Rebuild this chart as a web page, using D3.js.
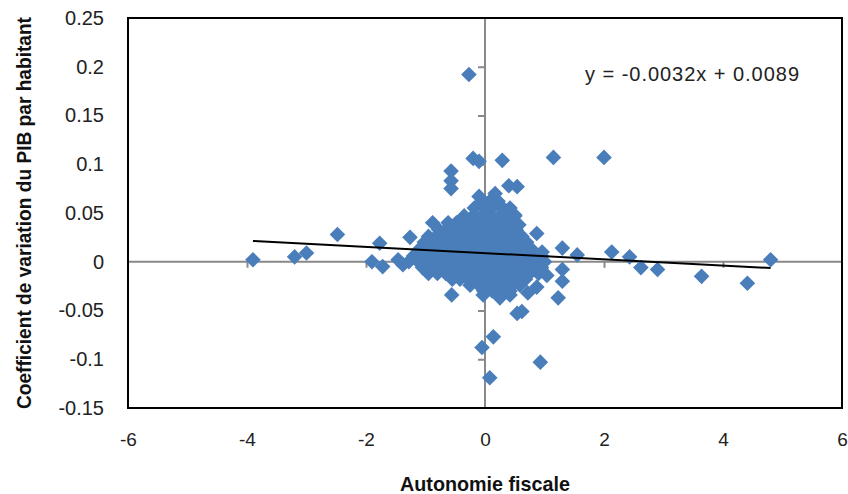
<!DOCTYPE html>
<html>
<head>
<meta charset="utf-8">
<script src="https://cdn.jsdelivr.net/npm/d3@7/dist/d3.min.js"></script>
<style>
  body { margin: 0; background: #fff; }
  .tick-label { font-family: "Liberation Sans", Arial, sans-serif; font-size: 20px; fill: #222; }
  .xlab { font-family: "Liberation Sans Narrow", "Arial Narrow", "Liberation Sans", sans-serif; font-size: 19px; fill: #222; }
  .title { font-family: "Liberation Sans Narrow", "Arial Narrow", "Liberation Sans", sans-serif; font-size: 21px; font-weight: bold; fill: #111; }
  .eq { font-family: "Liberation Sans", sans-serif; font-size: 20px; fill: #222; }
</style>
</head>
<body>
<div class="graph"></div>
<script>
// x = autonomie fiscale, y = coefficient de variation du PIB par habitant
var autonomie = [
  // isolated points
  -3.9, -3.2, -3.0, -2.48, -1.9, -1.72, -1.77, -1.26, -1.46, -1.38,
  -0.57, -0.57, -0.57, -0.27, -0.2, -0.1, 0.29, 1.15, 2.0,
  0.4, 0.54, 0.17, -0.1, 0.57, 0.5,
  0.87, 0.96, 1.3, 1.55, 2.13, 2.43, 2.62, 2.9, 3.64, 4.41, 4.8,
  1.3, 1.3, 1.23, 0.87, 1.04,
  -0.56, -0.03, 0.54, 0.62, 0.14, -0.05, 0.93, 0.08, 0.25, 0.42, 0.72,
  // dense cluster
  -0.05, 0.08, 0.22,
  -0.18, 0.0, 0.12, 0.3, 0.42,
  -0.35, -0.2, -0.05, 0.1, 0.25, 0.38, 0.5,
  -0.88, -0.62, -0.48, -0.3, -0.15, 0.02, 0.18, 0.33, 0.45,
  -0.78, -0.65, -0.5, -0.38, -0.22, -0.08, 0.07, 0.2, 0.36, 0.52,
  -0.95, -0.82, -0.68, -0.55, -0.42, -0.28, -0.12, 0.03, 0.15, 0.3, 0.42, 0.62,
  -1.02, -0.88, -0.74, -0.6, -0.46, -0.33, -0.18, -0.04, 0.1, 0.24, 0.38, 0.55, 0.7,
  -1.1, -0.95, -0.8, -0.66, -0.52, -0.4, -0.25, -0.1, 0.05, 0.18, 0.33, 0.47, 0.63, 0.78,
  -1.2, -1.05, -0.9, -0.76, -0.62, -0.48, -0.34, -0.2, -0.06, 0.08, 0.22, 0.36, 0.5, 0.66, 0.82, 0.95,
  -1.28, -1.12, -0.98, -0.84, -0.7, -0.56, -0.42, -0.28, -0.14, 0.0, 0.14, 0.28, 0.42, 0.58, 0.72, 0.88, 1.0,
  -1.05, -0.9, -0.76, -0.62, -0.48, -0.34, -0.2, -0.06, 0.08, 0.22, 0.36, 0.5, 0.64, 0.8, 0.95,
  -0.95, -0.8, -0.66, -0.52, -0.38, -0.24, -0.1, 0.04, 0.18, 0.32, 0.46, 0.6, 0.75, 0.9,
  -0.55, -0.42, -0.28, -0.14, 0.0, 0.14, 0.28, 0.42, 0.56, 0.68,
  -0.25, -0.1, 0.04, 0.18, 0.32, 0.46, 0.59,
  -0.02, 0.12, 0.28, 0.42
];
var variation = [
  0.002, 0.005, 0.009, 0.028, 0.0, -0.005, 0.019, 0.025, 0.002, -0.003,
  0.093, 0.083, 0.075, 0.192, 0.106, 0.103, 0.104, 0.107, 0.107,
  0.078, 0.077, 0.07, 0.067, 0.038, 0.048,
  0.029, 0.010, 0.014, 0.007, 0.010, 0.005, -0.006, -0.008, -0.015, -0.022, 0.002,
  -0.008, -0.02, -0.037, -0.026, -0.014,
  -0.034, -0.034, -0.053, -0.051, -0.077, -0.088, -0.103, -0.119, -0.037, -0.034, -0.032,
  0.062, 0.062, 0.062,
  0.055, 0.055, 0.055, 0.055, 0.055,
  0.047, 0.047, 0.047, 0.047, 0.047, 0.047, 0.047,
  0.04, 0.04, 0.04, 0.04, 0.04, 0.04, 0.04, 0.04, 0.04,
  0.033, 0.033, 0.033, 0.033, 0.033, 0.033, 0.033, 0.033, 0.033, 0.033,
  0.026, 0.026, 0.026, 0.026, 0.026, 0.026, 0.026, 0.026, 0.026, 0.026, 0.026, 0.026,
  0.02, 0.02, 0.02, 0.02, 0.02, 0.02, 0.02, 0.02, 0.02, 0.02, 0.02, 0.02, 0.02,
  0.013, 0.013, 0.013, 0.013, 0.013, 0.013, 0.013, 0.013, 0.013, 0.013, 0.013, 0.013, 0.013, 0.013,
  0.006, 0.006, 0.006, 0.006, 0.006, 0.006, 0.006, 0.006, 0.006, 0.006, 0.006, 0.006, 0.006, 0.006, 0.006, 0.006,
  0.0, 0.0, 0.0, 0.0, 0.0, 0.0, 0.0, 0.0, 0.0, 0.0, 0.0, 0.0, 0.0, 0.0, 0.0, 0.0, 0.0,
  -0.006, -0.006, -0.006, -0.006, -0.006, -0.006, -0.006, -0.006, -0.006, -0.006, -0.006, -0.006, -0.006, -0.006, -0.006,
  -0.012, -0.012, -0.012, -0.012, -0.012, -0.012, -0.012, -0.012, -0.012, -0.012, -0.012, -0.012, -0.012, -0.012,
  -0.018, -0.018, -0.018, -0.018, -0.018, -0.018, -0.018, -0.018, -0.018, -0.018,
  -0.024, -0.024, -0.024, -0.024, -0.024, -0.024, -0.024,
  -0.03, -0.03, -0.03, -0.03
];
var xTicks = [-6, -4, -2, 0, 2, 4, 6];
var yTicks = [-0.15, -0.1, -0.05, 0, 0.05, 0.1, 0.15, 0.2, 0.25];
var trend = { slope: -0.0032, intercept: 0.0089, from: -3.9, to: 4.8 };
var equationLabel = 'y = -0.0032x + 0.0089';

var width = 848, height = 494;
var margin = { top: 18, right: 6, bottom: 86, left: 128 };

var svg = d3.select('.graph').append('svg')
    .attr('width', width)
    .attr('height', height);

var x = d3.scaleLinear().domain([-6, 6]).range([margin.left, width - margin.right]);
var y = d3.scaleLinear().domain([-0.15, 0.25]).range([height - margin.bottom, margin.top]);

var points = autonomie.map(function (d, i) { return { x: d, y: variation[i] }; });

// zero axes (grey, with ticks)
var xZero = svg.append('g')
    .attr('transform', 'translate(0,' + y(0) + ')')
    .call(d3.axisBottom(x).tickValues(xTicks.filter(function (t) { return t !== 0 && Math.abs(t) !== 6; }))
      .tickSize(6).tickFormat(''));
var yZero = svg.append('g')
    .attr('transform', 'translate(' + x(0) + ',0)')
    .call(d3.axisLeft(y).tickValues(yTicks.filter(function (t) { return t !== 0 && t !== -0.15 && t !== 0.25; }))
      .tickSize(7).tickFormat(''));
svg.selectAll('.domain').attr('stroke', '#898989').attr('stroke-width', 2);
svg.selectAll('.tick line').attr('stroke', '#898989').attr('stroke-width', 2);
xZero.select('.domain').attr('d', 'M' + x(-6) + ',0H' + x(6));
yZero.select('.domain').attr('d', 'M0,' + y(-0.15) + 'V' + y(0.25));

// tick labels at the plot edges
var fmt = function (d) { return d === 0 ? '0' : String(d); };
svg.append('g')
    .attr('transform', 'translate(0,' + (height - margin.bottom) + ')')
    .call(d3.axisBottom(x).tickValues(xTicks).tickSize(0).tickPadding(25).tickFormat(fmt))
    .call(function (g) { g.select('.domain').remove(); })
    .selectAll('text').attr('class', 'xlab').attr('fill', null);
svg.append('g')
    .attr('transform', 'translate(' + (margin.left - 24) + ',0)')
    .call(d3.axisLeft(y).tickValues(yTicks).tickSize(0).tickPadding(0).tickFormat(fmt))
    .call(function (g) { g.select('.domain').remove(); })
    .selectAll('text').attr('class', 'tick-label').attr('fill', null);

// markers
var diamond = d3.symbol().type(d3.symbolSquare).size(122);
svg.append('g').selectAll('path')
    .data(points)
    .enter().append('path')
      .attr('d', diamond)
      .attr('transform', function (d) { return 'translate(' + x(d.x) + ',' + y(d.y) + ') rotate(45)'; })
      .attr('fill', '#4a7ebb');

// trend line
svg.append('line')
    .attr('x1', x(trend.from))
    .attr('y1', y(trend.slope * trend.from + trend.intercept))
    .attr('x2', x(trend.to))
    .attr('y2', y(trend.slope * trend.to + trend.intercept))
    .attr('stroke', '#000')
    .attr('stroke-width', 2);

// plot border
svg.append('rect')
    .attr('x', margin.left)
    .attr('y', margin.top)
    .attr('width', width - margin.left - margin.right)
    .attr('height', height - margin.top - margin.bottom)
    .attr('fill', 'none')
    .attr('stroke', '#000')
    .attr('stroke-width', 2);

svg.append('text')
    .attr('class', 'eq')
    .attr('x', 585)
    .attr('y', 81)
    .attr('textLength', 214)
    .attr('lengthAdjust', 'spacing')
    .text(equationLabel);

svg.append('text')
    .attr('class', 'title')
    .attr('x', x(0))
    .attr('y', 491)
    .attr('text-anchor', 'middle')
    .attr('textLength', 170)
    .attr('lengthAdjust', 'spacingAndGlyphs')
    .text('Autonomie fiscale');

svg.append('text')
    .attr('class', 'title')
    .style('font-size', '19.5px')
    .attr('transform', 'translate(31,213) rotate(-90)')
    .attr('text-anchor', 'middle')
    .attr('textLength', 392)
    .attr('lengthAdjust', 'spacingAndGlyphs')
    .text('Coefficient de variation du PIB par habitant');
</script>
</body>
</html>
